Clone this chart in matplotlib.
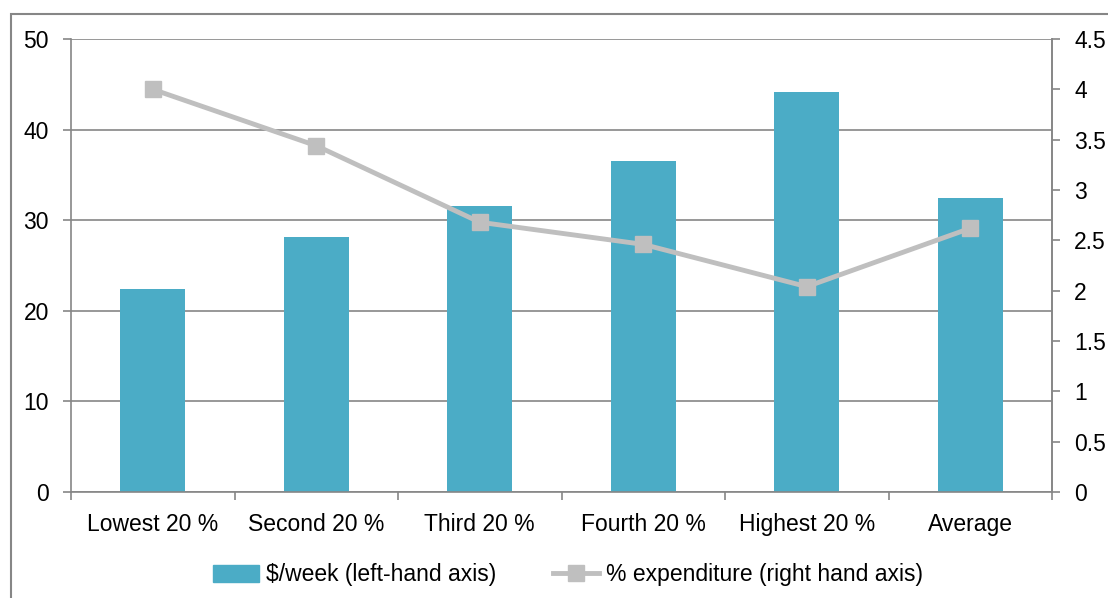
import matplotlib.pyplot as plt
import matplotlib.patches as mpatches
from matplotlib.lines import Line2D

plt.rcParams["font.family"] = ["Liberation Sans", "DejaVu Sans"]

groups = ["Lowest 20 %", "Second 20 %", "Third 20 %", "Fourth 20 %", "Highest 20 %", "Average"]
dollars_per_week = [22.4, 28.1, 31.6, 36.5, 44.2, 32.5]
pct_expenditure = [4.0, 3.44, 2.68, 2.46, 2.04, 2.62]

bar_color = "#4BACC6"
line_color = "#BFBFBF"
axis_color = "#868686"
fs = 16.5

W, H = 1108, 598
fig = plt.figure(figsize=(W / 100, H / 100), dpi=100)
ax = fig.add_axes([71 / W, 1 - 492 / H, (1052 - 71) / W, (492 - 39) / H])

# chart frame (runs off the right and bottom edges)
fig.patches.append(mpatches.Rectangle((11 / W, -0.1), 1.2, 1 - 14 / H + 0.1,
                                      transform=fig.transFigure, fill=False,
                                      edgecolor=axis_color, linewidth=1.5))

x = range(len(groups))
ax.bar(x, dollars_per_week, width=0.4, color=bar_color, zorder=2)
ax.set_xlim(-0.5, len(groups) - 0.5)
ax.set_ylim(0, 50)
ax.set_yticks(range(0, 51, 10))
ax.grid(axis="y", color=axis_color, linewidth=1.2, zorder=0)
ax.set_axisbelow(True)

ax.set_xticks(list(x))
ax.set_xticklabels(groups)
ax.set_xticks([i + 0.5 for i in range(-1, len(groups))], minor=True)
ax.tick_params(axis="x", which="major", length=0, pad=15, labelsize=fs)
ax.tick_params(axis="x", which="minor", length=6, color=axis_color, width=1.2)
ax.tick_params(axis="y", length=6, color=axis_color, width=1.2, labelsize=fs, pad=10)

ax.spines["top"].set_visible(False)
for side in ["left", "bottom", "right"]:
    ax.spines[side].set_color(axis_color)
    ax.spines[side].set_linewidth(1.2)

ax2 = ax.twinx()
ax2.plot(list(x), pct_expenditure, color=line_color, linewidth=3.5,
         marker="s", markersize=12, zorder=3)
ax2.set_ylim(0, 4.5)
ax2.set_yticks([i * 0.5 for i in range(10)])
ax2.set_yticklabels(["0", "0.5", "1", "1.5", "2", "2.5", "3", "3.5", "4", "4.5"])
ax2.tick_params(axis="y", length=6, color=axis_color, width=1.2, labelsize=fs, pad=10)
for side in ["top", "left", "bottom"]:
    ax2.spines[side].set_visible(False)
ax2.spines["right"].set_color(axis_color)
ax2.spines["right"].set_linewidth(1.2)

handles = [
    mpatches.Patch(color=bar_color, label="$/week (left-hand axis)"),
    Line2D([], [], color=line_color, linewidth=3.5, marker="s", markersize=12,
           label="% expenditure (right hand axis)"),
]
fig.legend(handles=handles, loc="center", bbox_to_anchor=(568 / W, 1 - 575 / H),
           ncol=2, frameon=False, fontsize=fs, handlelength=2.0,
           handletextpad=0.3, columnspacing=2.5)

fig.savefig("out.png", dpi=100)
